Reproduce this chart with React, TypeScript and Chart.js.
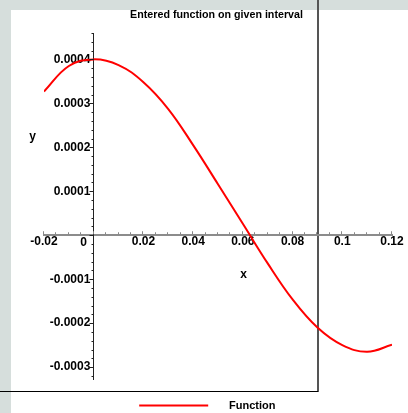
import React, { useEffect, useRef } from 'react';
import { Chart, registerables } from 'chart.js';

Chart.register(...registerables);

// ---- data ----
const xValues = [-0.02, -0.01, 0, 0.01, 0.02, 0.03, 0.04, 0.05, 0.06, 0.07, 0.08, 0.09, 0.1, 0.11, 0.12];
const yValues = [
  0.000327, 0.000385, 0.0004, 0.000387, 0.000348, 0.000287, 0.000205, 0.000116,
  0.000026, -0.000064, -0.000146, -0.00021, -0.00025, -0.000265, -0.000249,
];
const xTickLabels = ['-0.02', '0.02', '0.04', '0.06', '0.08', '0.1', '0.12'];
const yTickLabels = ['-0.0003', '-0.0002', '-0.0001', '0.0001', '0.0002', '0.0003', '0.0004'];
const originLabel = '0';
const titleText = 'Entered function on given interval';
const seriesName = 'Function';
const xAxisName = 'x';
const yAxisName = 'y';

const tickFont = { family: '"Liberation Sans", Arial, sans-serif', size: 12, weight: 'bold' as const };

const decorPlugin = {
  id: 'decor',
  afterDraw(chart: any) {
    const { ctx } = chart;
    const xs = chart.scales.x;
    const ys = chart.scales.y;
    const axisX = xs.getPixelForValue(0);
    const axisY = ys.getPixelForValue(0);
    ctx.save();
    // y-axis tick marks (major every 0.0001, minor every 0.00002)
    ctx.strokeStyle = '#222';
    ctx.lineWidth = 1;
    const yStep = 0.00002;
    for (let k = Math.ceil(ys.min / yStep - 1e-6); k <= Math.floor(ys.max / yStep + 1e-6); k++) {
      const py = Math.round(ys.getPixelForValue(k * yStep)) + 0.5;
      const len = k % 5 === 0 ? 4.5 : 2.5;
      ctx.beginPath();
      ctx.moveTo(Math.round(axisX) - len, py);
      ctx.lineTo(Math.round(axisX), py);
      ctx.stroke();
    }
    // x-axis tick marks (major every 0.02, minor every 0.005)
    ctx.strokeStyle = '#888';
    const xStep = 0.005;
    for (let k = Math.ceil(xs.min / xStep - 1e-6); k <= Math.floor(xs.max / xStep + 1e-6); k++) {
      const px = Math.round(xs.getPixelForValue(k * xStep)) - 0.5;
      const len = k % 4 === 0 ? 3 : 2;
      ctx.beginPath();
      ctx.moveTo(px, axisY - 1);
      ctx.lineTo(px, axisY - 1 - len);
      ctx.stroke();
    }
    // axis names
    ctx.fillStyle = '#000';
    ctx.font = 'bold 12px "Liberation Sans", Arial, sans-serif';
    ctx.textAlign = 'center';
    ctx.textBaseline = 'alphabetic';
    ctx.fillText(yAxisName, 32.5, 140);
    ctx.fillText(xAxisName, 243.5, 278);
    ctx.restore();
  },
};

export default function App() {
  const canvasRef = useRef<HTMLCanvasElement | null>(null);

  useEffect(() => {
    const canvas = canvasRef.current;
    if (!canvas) return;
    const points = xValues.map((x, i) => ({ x, y: yValues[i] }));
    const chart = new Chart(canvas, {
      type: 'line',
      data: {
        datasets: [
          {
            label: seriesName,
            data: points,
            borderColor: '#ff0000',
            backgroundColor: '#ff0000',
            borderWidth: 2,
            pointRadius: 0,
            tension: 0.4,
            fill: false,
          },
        ],
      },
      options: {
        responsive: false,
        animation: false,
        devicePixelRatio: 1,
        layout: { padding: { left: 44, right: 16, top: 0, bottom: 0 } },
        plugins: {
          tooltip: { enabled: false },
          title: {
            display: true,
            text: titleText + ' ',
            color: '#000',
            font: { family: '"Liberation Sans", Arial, sans-serif', size: 10.7, weight: 'bold' },
            padding: { top: 9, bottom: 11.16 },
          },
          legend: {
            display: true,
            position: 'bottom',
            labels: {
              boxWidth: 69,
              boxHeight: 2,
              padding: 21,
              color: '#000',
              font: { family: '"Liberation Sans", Arial, sans-serif', size: 11, weight: 'bold' },
              generateLabels: () => [
                {
                  text: '     ' + seriesName + '       ',
                  fillStyle: '#ff0000',
                  strokeStyle: '#ff0000',
                  lineWidth: 0,
                  hidden: false,
                  datasetIndex: 0,
                  fontColor: '#000',
                },
              ],
            },
          },
        },
        scales: {
          x: {
            type: 'linear',
            min: -0.02,
            max: 0.12,
            position: { y: 0 },
            grid: { display: false, drawTicks: false },
            border: { display: true, color: '#8c8c8c', width: 2 },
            ticks: {
              stepSize: 0.02,
              autoSkip: false,
              maxRotation: 0,
              includeBounds: false,
              padding: -1,
              color: '#000',
              font: tickFont,
              callback: (value: any) => {
                const v = Number(value);
                const lab = xTickLabels.find((l) => Math.abs(parseFloat(l) - v) < 1e-9);
                return lab ?? '';
              },
            },
          },
          y: {
            type: 'linear',
            min: -0.000327,
            max: 0.00046,
            position: { x: 0 },
            grid: { display: false, drawTicks: false },
            border: { display: true, color: '#222', width: 1 },
            ticks: {
              stepSize: 0.0001,
              autoSkip: false,
              includeBounds: false,
              padding: 4,
              color: '#000',
              font: tickFont,
              callback: (value: any) => {
                const v = Number(value);
                if (Math.abs(v) < 1e-12) return ['', originLabel + '  '];
                const lab = yTickLabels.find((l) => Math.abs(parseFloat(l) - v) < 1e-10);
                return lab ? lab + ' ' : '';
              },
            },
          },
        },
      },
      plugins: [decorPlugin],
    });
    return () => chart.destroy();
  }, []);

  return (
    <div
      style={{
        position: 'absolute',
        left: 0,
        top: 0,
        width: 408,
        height: 413,
        overflow: 'hidden',
        background: '#d6dedc',
      }}
    >
      <div style={{ position: 'absolute', left: 11, top: 10, width: 397, height: 403, background: '#ffffff' }} />
      <div style={{ position: 'absolute', left: 317, top: 0, width: 2, height: 392, background: '#555555' }} />
      <div style={{ position: 'absolute', left: 0, top: 391, width: 318, height: 1, background: '#000000' }} />
      <canvas
        ref={canvasRef}
        width={408}
        height={421}
        style={{ position: 'absolute', left: 0, top: 0, width: 408, height: 421, display: 'block' }}
      />
    </div>
  );
}
